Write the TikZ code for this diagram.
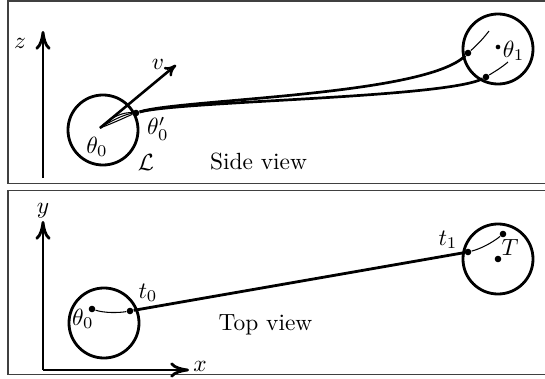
\documentclass[tikz,border=0pt]{standalone}
\usetikzlibrary{arrows.meta}
\begin{document}
\begin{tikzpicture}[x=0.427pt,y=-0.427pt,
  frame/.style={line width=0.8pt, draw=black!75},
  ring/.style={circle, draw, line width=1.2pt, minimum size=29.9pt, inner sep=0pt},
  axis/.style={line width=1.2pt, -{Computer Modern Rightarrow[length=8pt,width=6.5pt]}},
  vec/.style={line width=1.1pt, -{Computer Modern Rightarrow[length=5pt,width=5pt]}},
  thick path/.style={line width=1.15pt},
  thin path/.style={line width=0.45pt},
  dot/.style={circle, fill, inner sep=0pt, minimum size=2.8pt},
  lab/.style={inner sep=1pt}]
\useasboundingbox (0,0) rectangle (545,379);
% frames
\draw[frame] (548,1) -- (8,1) -- (8,183.5) -- (548,183.5);
\draw[frame] (548,190.5) -- (8,190.5) -- (8,374.5) -- (548,374.5);

% ---------- side view ----------
\coordinate (zbase) at (43,178);
\coordinate (ztip) at (43,31);
\draw[axis] (zbase) -- (ztip);
\node[lab] (zl) at (20,43) {$z$};

\node[ring] (L) at (103,130) {};
\node[ring] (R) at (498,49) {};
\coordinate (c0) at (100,128);
\node[dot] (p0) at (136,113) {};
\node[dot] (a1) at (468,53) {};
\node[dot] (a2) at (486,77) {};
\coordinate (a1e) at (489,31);
\coordinate (a2e) at (508,62);
\coordinate (vtip) at (176,65);

\draw[thin path] (c0) .. controls (112,116) and (124,112) .. (p0);
\draw[thin path] (c0) .. controls (114,119) and (126,114) .. (p0);
\draw[thin path] (c0) .. controls (116,122) and (128,116) .. (p0);
\draw[vec] (c0) -- (vtip);
\node[lab] (vl) at (158,64) {$v$};

\draw[thick path] (p0) .. controls (180,99) and (425,96) .. (a1);
\draw[thick path] (p0) .. controls (180,101) and (445,98) .. (a2);
\draw[thin path] (a1) .. controls (476,46) and (483,39) .. (a1e);
\draw[thin path] (a2) .. controls (494,72) and (501,68) .. (a2e);

\node[dot, minimum size=2pt] (th1) at (498,47) {};
\node[lab, anchor=west] (th1l) at (500,51) {$\theta_1$};
\node[lab] (th0l) at (97,147) {$\theta_0$};
\node[lab] (th0pl) at (158,129) {$\theta_0'$};
\node[lab] (Ll) at (146,162) {$\mathcal{L}$};
\node[lab] (side) at (258.5,162) {Side view};

% ---------- top view ----------
\coordinate (o) at (43,370);
\coordinate (ytip) at (43,221);
\coordinate (xtip) at (189,370);
\draw[axis] (o) -- (ytip);
\draw[axis] (o) -- (xtip);
\node[lab] (yl) at (43,211) {$y$};
\node[lab] (xl) at (200,366) {$x$};

\node[ring] (L2) at (104,323) {};
\node[ring] (R2) at (498,259) {};
\node[dot] (b0) at (92,309) {};
\node[dot] (t0) at (130,311) {};
\node[dot] (t1) at (468,252) {};
\node[dot] (Tt) at (503,234) {};
\node[dot] (Tc) at (498,259) {};

\draw[thin path] (b0) .. controls (104,313) and (118,313) .. (t0);
\draw[line width=1.2pt] (t0) -- (t1);
\draw[thin path] (t1) .. controls (480,249) and (492,243) .. (Tt);

\node[lab] (th0b) at (83,319) {$\theta_0$};
\node[lab] (t0l) at (148,293) {$t_0$};
\node[lab] (t1l) at (448,240) {$t_1$};
\node[lab] (Tl) at (510,247) {$T$};
\node[lab] (top) at (265.5,325) {Top view};
\end{tikzpicture}
\end{document}
